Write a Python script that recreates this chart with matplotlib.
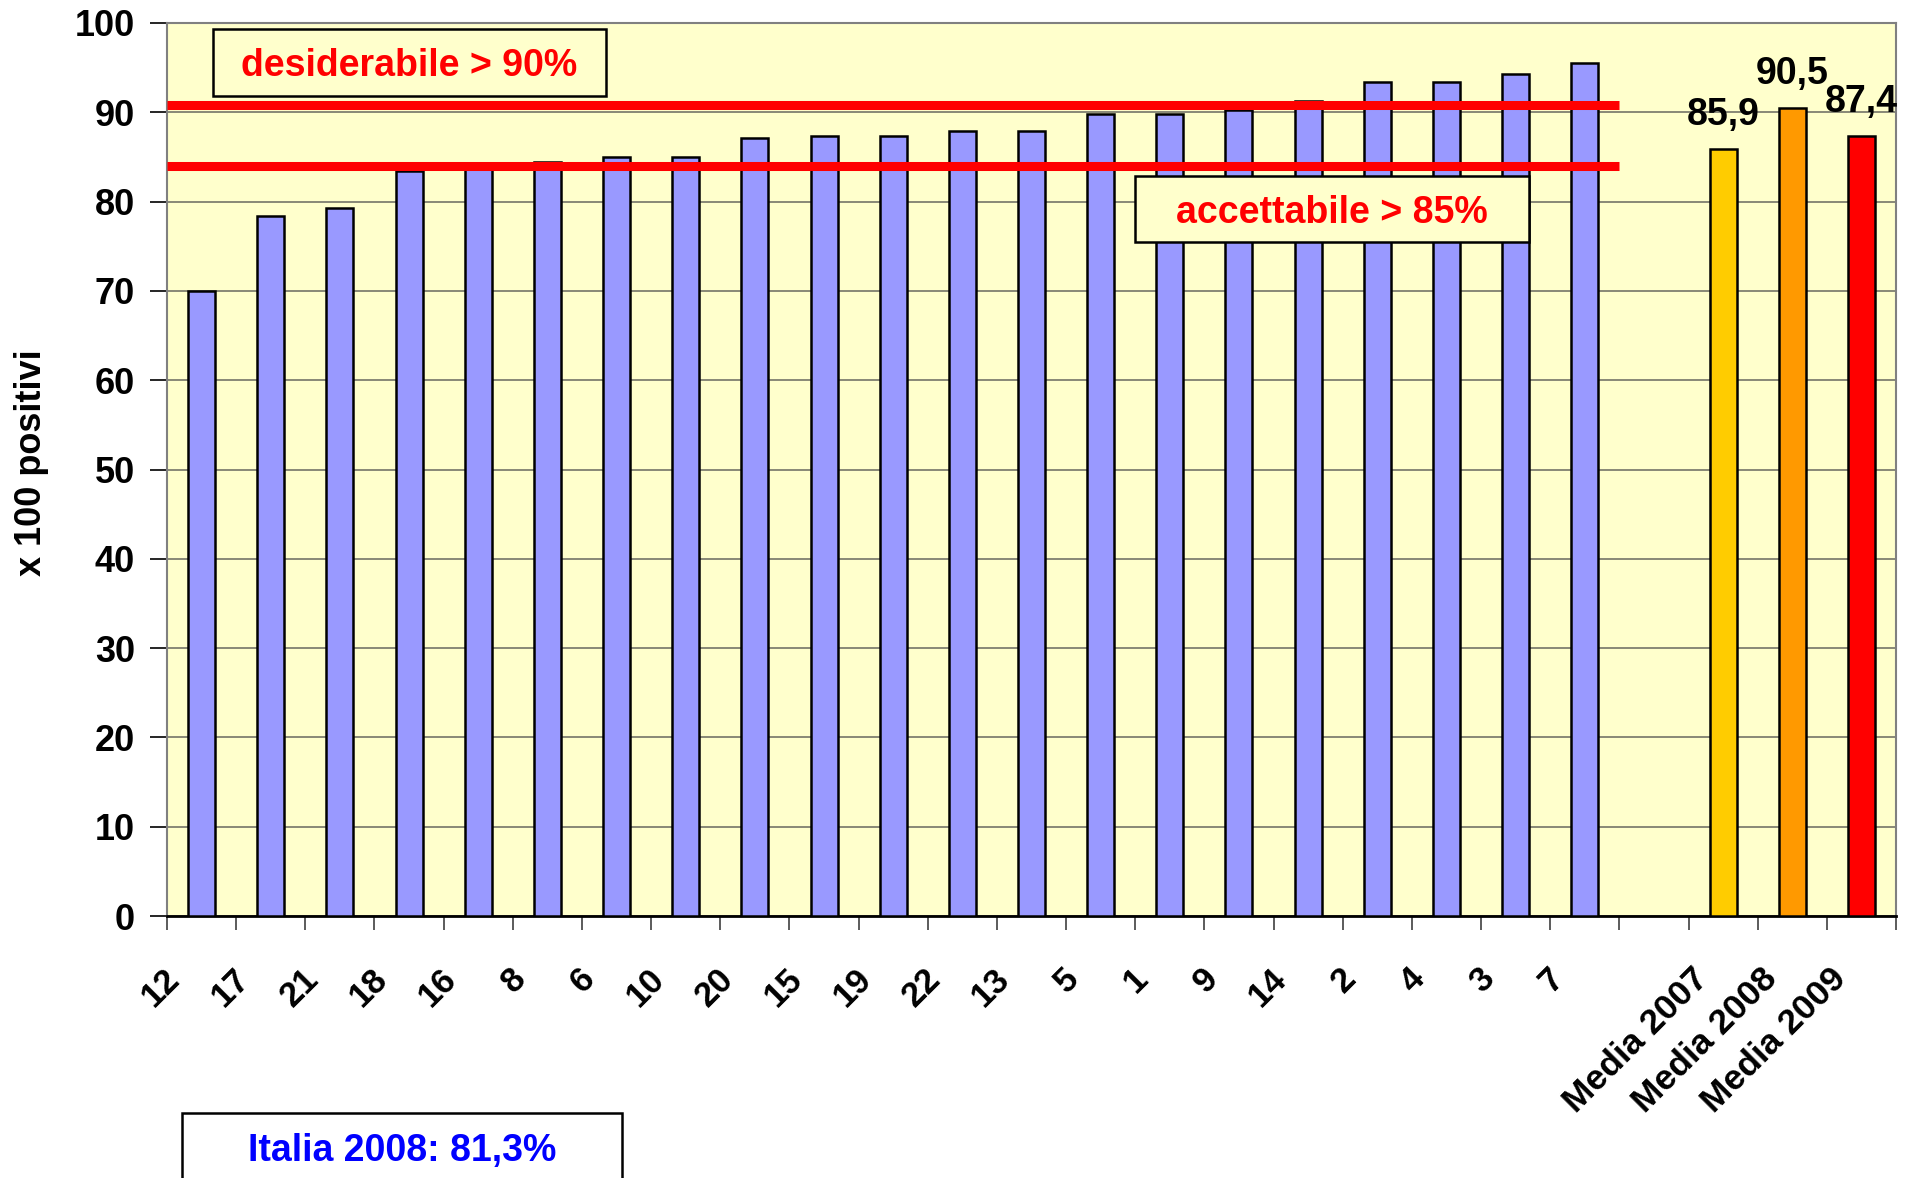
import matplotlib
matplotlib.use("Agg")
import matplotlib.pyplot as plt
import matplotlib.transforms as mtransforms
from matplotlib.patches import Rectangle
import numpy as np

plt.rcParams["font.family"] = ["Liberation Sans", "DejaVu Sans"]
plt.rcParams["font.weight"] = "bold"

# Data
centri = ["12", "17", "21", "18", "16", "8", "6", "10", "20", "15", "19",
          "22", "13", "5", "1", "9", "14", "2", "4", "3", "7"]
valori = [70.0, 78.4, 79.3, 83.4, 84.0, 84.4, 85.0, 85.0, 87.1, 87.4, 87.4,
          87.9, 87.9, 89.8, 89.8, 90.3, 91.3, 93.4, 93.4, 94.3, 95.5]
medie_labels = ["Media 2007", "Media 2008", "Media 2009"]
medie_valori = [85.9, 90.5, 87.4]
medie_testi = ["85,9", "90,5", "87,4"]
medie_colori = ["#FFCC00", "#FF9900", "#FF0000"]
soglie = [90.8, 84.0]  # red reference lines as drawn

fig = plt.figure(figsize=(19.12, 11.78), dpi=100)
ax = fig.add_axes([167 / 1912, 1 - 916 / 1178, 1729 / 1912, 893 / 1178])
ax.set_facecolor("#FFFFCC")

x_centri = np.arange(len(centri))
x_medie = np.arange(len(medie_labels)) + len(centri) + 1
bar_w = 0.39

ax.bar(x_centri, valori, width=bar_w, color="#9999FF", edgecolor="black",
       linewidth=1.8, zorder=3)
ax.bar(x_medie, medie_valori, width=bar_w, color=medie_colori,
       edgecolor="black", linewidth=1.8, zorder=3)

for xm, v, t in zip(x_medie, medie_valori, medie_testi):
    ax.annotate(t, (xm, v), xytext=(0, 17), textcoords="offset points",
                ha="center", va="baseline", fontsize=27, fontweight="bold",
                annotation_clip=False, zorder=5)

# threshold lines
x_end = len(centri) - 0.5
for s in soglie:
    ax.plot([-0.5, x_end], [s, s], color="#FF0000", linewidth=6.5,
            solid_capstyle="butt", zorder=4)

n_slots = len(centri) + 1 + len(medie_labels)
ax.set_xlim(-0.5, n_slots - 0.5)
ax.set_ylim(0, 100)
ax.set_yticks(np.arange(0, 101, 10))
ax.yaxis.grid(True, color="#7F7F70", linewidth=1.3, zorder=1)
ax.set_axisbelow(True)

# x ticks: marks at slot boundaries, labels at slot centres
ax.set_xticks(np.arange(-0.5, n_slots, 1.0), minor=True)
ax.set_xticks(list(x_centri) + list(x_medie), centri + medie_labels)
ax.tick_params(axis="x", which="major", length=0, pad=33)
ax.tick_params(axis="x", which="minor", length=10, width=1.2, color="#404040")
ax.tick_params(axis="y", length=12, width=1.2, pad=11, labelsize=26)

for lab in ax.get_xticklabels():
    media = lab.get_text().startswith("Media")
    dx = -9 if media else -15
    lab.set_rotation(45)
    lab.set_ha("right")
    lab.set_va("top")
    lab.set_fontweight("bold")
    lab.set_fontsize(25.5 if media else 25)
    lab.set_transform(lab.get_transform() + mtransforms.ScaledTranslation(
        dx / 100, 0, fig.dpi_scale_trans))
for lab in ax.get_yticklabels():
    lab.set_fontweight("bold")

for side in ["top", "right", "left"]:
    ax.spines[side].set_color("#808080")
    ax.spines[side].set_linewidth(1.5)
ax.spines["bottom"].set_color("black")
ax.spines["bottom"].set_linewidth(2)

fig.text(32 / 1912, 1 - 463 / 1178, "x 100 positivi", rotation=90,
         ha="center", va="center", fontsize=26, fontweight="bold")

# text boxes
def box(x0, y0, x1, y1, testo, colore):
    W, H = 1912, 1178
    r = Rectangle((x0 / W, 1 - y1 / H), (x1 - x0) / W, (y1 - y0) / H,
                  transform=fig.transFigure, facecolor="#FFFFCC",
                  edgecolor="black", linewidth=1.8, zorder=10)
    fig.add_artist(r)
    fig.text((x0 + x1) / 2 / W, 1 - ((y0 + y1) / 2 + 4) / H, testo,
             ha="center", va="center", fontsize=27, fontweight="bold",
             color=colore, zorder=11)

box(213, 29, 606, 96, "desiderabile > 90%", "#FF0000")
box(1135, 176, 1529, 242, "accettabile > 85%", "#FF0000")

r = Rectangle((182 / 1912, -0.05), 440 / 1912, 0.05 + 1 - 1113 / 1178,
              transform=fig.transFigure, facecolor="white",
              edgecolor="black", linewidth=1.8, zorder=10)
fig.add_artist(r)
fig.text(402 / 1912, 1 - 1151 / 1178, "Italia 2008: 81,3%", ha="center",
         va="center", fontsize=27, fontweight="bold", color="#0000FF",
         zorder=11)

fig.savefig("out.png", dpi=100)
plt.close(fig)
